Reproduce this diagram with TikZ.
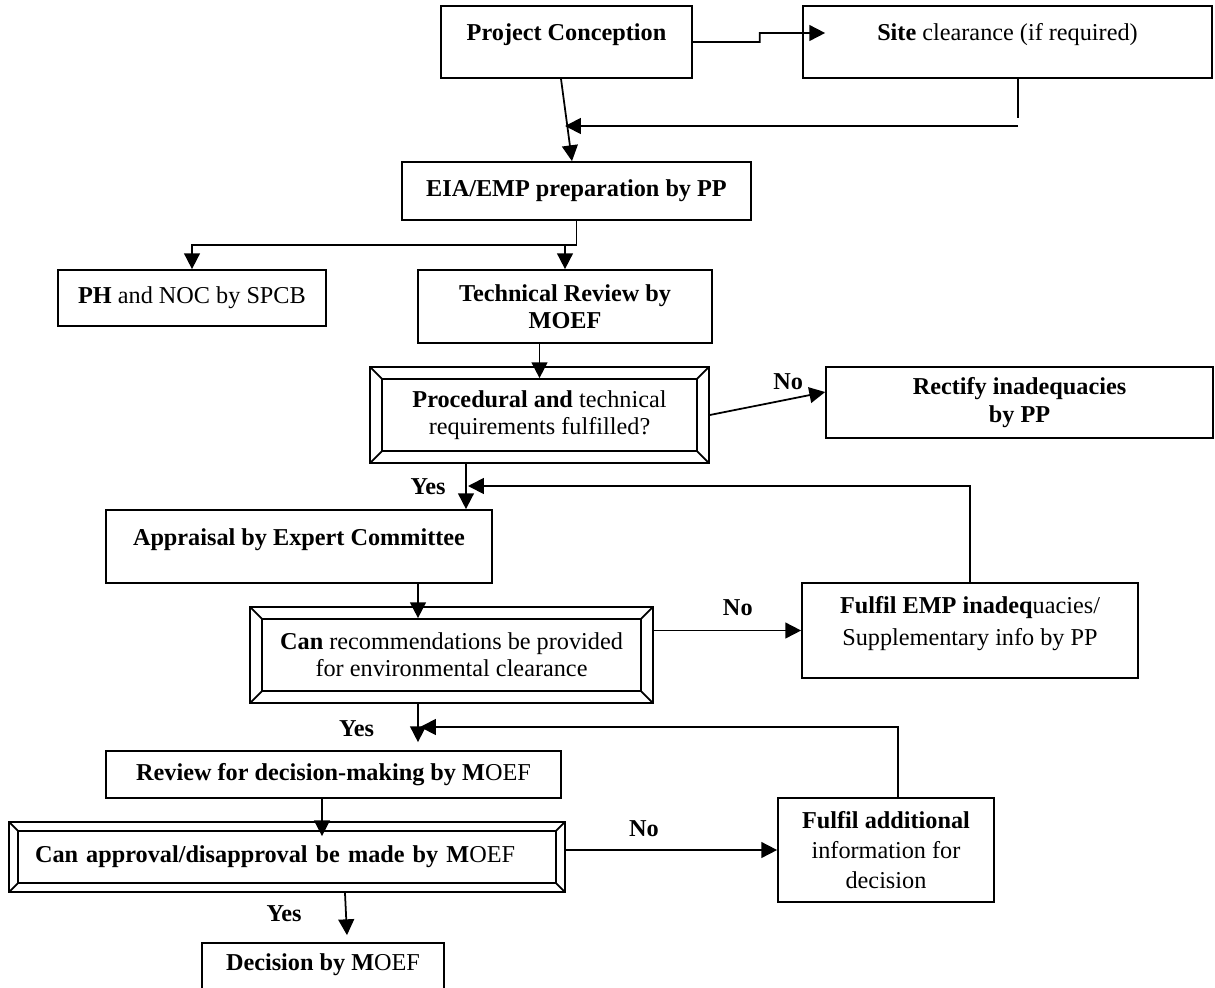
\documentclass[tikz,border=0pt]{standalone}
\usepackage{fontspec}
\setmainfont{Liberation Serif}
\usetikzlibrary{arrows.meta,calc}
\tikzstyle{block} = [rectangle, draw, align=center, inner sep=0pt,
    font=\fontsize{13.8}{15.5}\selectfont]
\tikzstyle{hightext} = [text depth=11pt]
\tikzset{bevelblock/.style={block, path picture={
      \draw ([shift={(#1,#1)}]path picture bounding box.south west) rectangle
            ([shift={(-#1,-#1)}]path picture bounding box.north east);
      \foreach \c/\sx/\sy in {south west/1/1, south east/-1/1, north west/1/-1, north east/-1/-1}
        \draw (path picture bounding box.\c) -- ++(\sx*#1,\sy*#1);
    }},
  bevelblock/.default=0.24cm}
\tikzstyle{line} = [draw, -{Triangle[length=9pt,width=9pt]}]
\tikzstyle{answer} = [font=\fontsize{13.8}{15.5}\selectfont\bfseries, inner sep=2pt]

\begin{document}
\begin{tikzpicture}[x=0.02cm, y=-0.02cm, line width=1pt]
  \useasboundingbox (0,0) rectangle (1215,988);
  \clip (0,0) rectangle (1215,988);
   % Place nodes
    \node [block, hightext, minimum width=5.02cm, minimum height=1.44cm] (conception) at (566.5,42) {\textbf{Project Conception}};
    \node [block, hightext, minimum width=8.18cm, minimum height=1.44cm] (site) at (1007.5,42) {\textbf{Site} clearance (if required)};
    \node [block, minimum width=6.98cm, minimum height=1.16cm] (eia) at (576.5,191) {\textbf{EIA/EMP preparation by PP}};
    \node [block, minimum width=5.36cm, minimum height=1.12cm] (ph) at (192,298) {\textbf{PH} and NOC by SPCB};
    \node [block, minimum width=5.88cm, minimum height=1.46cm] (tech) at (565,306.5) {\textbf{Technical Review by}\\\textbf{MOEF}};
    \node [bevelblock, minimum width=6.78cm, minimum height=1.92cm] (proc) at (539.5,415) {\textbf{Procedural and} technical\\requirements fulfilled?};
    \node [block, minimum width=7.74cm, minimum height=1.42cm] (rectify) at (1019.5,402.5) {\textbf{Rectify inadequacies}\\\textbf{by PP}};
    \node [block, hightext, minimum width=7.72cm, minimum height=1.46cm] (appraisal) at (299,546.5) {\textbf{Appraisal by Expert Committee}};
    \node [block, hightext, minimum width=6.72cm, minimum height=1.9cm, font=\fontsize{13.8}{18.5}\selectfont] (fulfilemp) at (970,630.5) {\textbf{Fulfil EMP inadeq}uacies/\\Supplementary info by PP};
    \node [bevelblock, minimum width=8.06cm, minimum height=1.92cm] (canrec) at (451.5,655) {\textbf{Can} recommendations be provided\\for environmental clearance};
    \node [block, minimum width=9.1cm, minimum height=0.94cm] (review) at (333.5,774.5) {\textbf{Review for decision-making by M}OEF};
    \node [block, minimum width=4.32cm, minimum height=2.08cm, font=\fontsize{13.8}{17}\selectfont] (fulfiladd) at (886,850) {\textbf{Fulfil additional}\\information for\\decision};
    \node [bevelblock=0.18cm, minimum width=11.12cm, minimum height=1.4cm, text width=10.08cm, inner xsep=0.52cm, align=left] (approve) at (287,857) {\textbf{Can approval/disapproval be made by M}OEF};
    \node [block, hightext, minimum width=4.84cm, minimum height=1.16cm] (decision) at (323,972) {\textbf{Decision by M}OEF};
    \coordinate (return) at (1018,126);
    \coordinate (merge) at (565,126);
    \coordinate (split) at (565,245);
    \coordinate (backA) at (468,486);
    \coordinate (backB) at (420,727);
   % Draw edges
    \path [line, shorten >=-0.46cm] (conception.east) -- ++(67,0) -- ++(0,-9) -- ([yshift=0.18cm]site.west);
    \draw ([xshift=0.21cm]site.south) -- ++(0,39);
    \path [line] (return) -- (merge);
    \path [line] ([xshift=-0.11cm]conception.south) -- ([xshift=-0.09cm]eia.north);
    \path [line] (eia.south) |- (split) -| (ph.north);
    \path [line] (split) -- (tech.north);
    \path [line] (tech.south -| proc.north) -- ([yshift=-0.24cm]proc.north);
    \path [line] (proc.east) -- ([yshift=0.21cm]rectify.west) node [answer, pos=0.68, above=3pt] {No};
    \path [line] ([xshift=-1.47cm]proc.south) -- ([xshift=3.34cm]appraisal.north) node [answer, midway, left=0.32cm] {Yes};
    \path [line] (fulfilemp.north) |- (backA);
    \path [line] ([xshift=2.38cm]appraisal.south) -- ([xshift=-0.67cm, yshift=-0.24cm]canrec.north);
    \path [line] (canrec.east |- fulfilemp.west) -- (fulfilemp.west) node [answer, pos=0.57, above=6pt] {No};
    \path [line] ([xshift=-0.67cm]canrec.south) -- ([xshift=1.69cm, yshift=0.16cm]review.north) node [answer, pos=0.65, left=0.79cm] {Yes};
    \path [line] ([xshift=0.24cm]fulfiladd.north) |- (backB);
    \path [line] ([xshift=-0.23cm]review.south) -- ([xshift=0.7cm, yshift=-0.3cm]approve.north);
    \path [line] (approve.east |- fulfiladd.west) -- (fulfiladd.west) node [answer, pos=0.37, above=5pt] {No};
    \path [line] ([xshift=1.16cm]approve.south) -- ([xshift=0.48cm, yshift=0.14cm]decision.north) node [answer, midway, left=0.8cm] {Yes};
\end{tikzpicture}
\end{document}
